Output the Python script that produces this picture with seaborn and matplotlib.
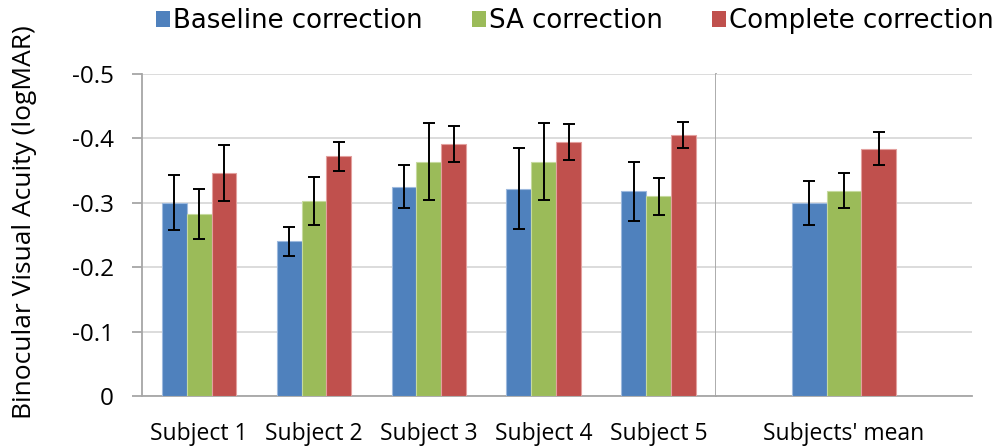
import matplotlib
matplotlib.use("Agg")
import matplotlib.pyplot as plt
from matplotlib.patches import Patch
from matplotlib.container import BarContainer
import seaborn as sns
import pandas as pd

subjects = ["Subject 1", "Subject 2", "Subject 3", "Subject 4", "Subject 5"]
mean_label = ["Subjects' mean"]
series = ["Baseline correction", "SA correction", "Complete correction"]

baseline = [-0.300, -0.240, -0.325, -0.322, -0.318]
sa_corr = [-0.283, -0.303, -0.364, -0.364, -0.310]
complete = [-0.346, -0.372, -0.391, -0.394, -0.405]
baseline_err = [0.043, 0.022, 0.033, 0.063, 0.046]
sa_err = [0.039, 0.037, 0.060, 0.060, 0.029]
complete_err = [0.043, 0.022, 0.028, 0.028, 0.020]

mean_vals = [-0.300, -0.319, -0.384]
mean_err = [0.034, 0.027, 0.026]

yticks = [0, -0.1, -0.2, -0.3, -0.4, -0.5]
ytick_labels = ["0", "-0.1", "-0.2", "-0.3", "-0.4", "-0.5"]

colors = ["#4F81BD", "#9BBB59", "#C0504D"]
edge_colors = ["#9DB9DE", "#C6DA9E", "#E3A09E"]

sns.set_theme(style="white")
plt.rcParams['font.family'] = ['Open Sans', 'DejaVu Sans']
plt.rcParams['text.color'] = 'black'
plt.rcParams['xtick.color'] = 'black'
plt.rcParams['ytick.color'] = 'black'
plt.rcParams['axes.labelcolor'] = 'black'

# long-form data
rows = []
for s, vals in zip(series, [baseline, sa_corr, complete]):
    for c, v in zip(subjects, vals):
        rows.append({"cat": c, "series": s, "value": v})
df_left = pd.DataFrame(rows)
df_right = pd.DataFrame({"cat": mean_label * 3, "series": series, "value": mean_vals})

errs_left = [baseline_err, sa_err, complete_err]
errs_right = [[e] for e in mean_err]

fig = plt.figure(figsize=(10.03, 4.46), dpi=100)
L, S, R = 141.7 / 1003, 716 / 1003, 972 / 1003
B, T = 1 - 396 / 446, 1 - 74 / 446
ax1 = fig.add_axes([L, B, S - L, T - B])
ax2 = fig.add_axes([S, B, R - S, T - B])

grid_c = "#D9D9D9"
spine_c = "#A6A6A6"


def draw(ax, df, order, width, errs):
    sns.barplot(data=df, x="cat", y="value", hue="series", order=order,
                hue_order=series, palette=colors, saturation=1, width=width,
                errorbar=None, legend=False, ax=ax, zorder=3)
    bar_conts = [c for c in ax.containers if isinstance(c, BarContainer)]
    for k, cont in enumerate(bar_conts):
        for p, e in zip(cont.patches, errs[k]):
            p.set_edgecolor(edge_colors[k])
            p.set_linewidth(0.8)
            x = p.get_x() + p.get_width() / 2
            y = p.get_y() + p.get_height()
            ax.errorbar(x, y, yerr=e, fmt="none", ecolor="black",
                        elinewidth=1.4, capsize=4.5, capthick=1.4, zorder=4)
    ax.set_ylim(0, -0.5)
    ax.set_yticks(yticks)
    ax.yaxis.grid(True, color=grid_c, linewidth=1.3, zorder=0)
    ax.set_axisbelow(True)
    ax.set_xlabel("")
    ax.set_ylabel("")
    ax.tick_params(axis="x", length=0, pad=19, labelsize=16.5, labelcolor="black")
    for sp in ax.spines.values():
        sp.set_color(spine_c)
        sp.set_linewidth(1.3)
    ax.spines["top"].set_visible(False)


draw(ax1, df_left, subjects, 0.65, errs_left)
draw(ax2, df_right, mean_label, 0.41, errs_right)
ax1.set_xlim(-0.5, len(subjects) - 0.5)
ax2.set_xlim(-0.5, 0.5)

ax1.set_yticklabels(ytick_labels)
ax1.tick_params(axis="y", length=7, width=1.3, color=spine_c, direction="out",
                pad=13, labelsize=17.5, labelcolor="black", left=True)
ax1.spines["right"].set_visible(True)
ax2.spines["left"].set_visible(False)
ax2.spines["right"].set_visible(False)
ax2.tick_params(axis="y", left=False, labelleft=False)

ax1.set_ylabel("Binocular Visual Acuity (logMAR)", fontsize=19, color="black")
ax1.yaxis.set_label_coords(-0.182, 0.539)

handles = [Patch(facecolor=c, edgecolor="none") for c in colors]
fig.legend(handles, series, loc="center", bbox_to_anchor=(0.573, 0.953), ncol=3,
           frameon=False, handlelength=0.55, handleheight=0.55,
           handletextpad=0.1, columnspacing=1.9,
           prop={"family": "DejaVu Sans", "size": 18.7})

fig.savefig("out.png", dpi=100)
